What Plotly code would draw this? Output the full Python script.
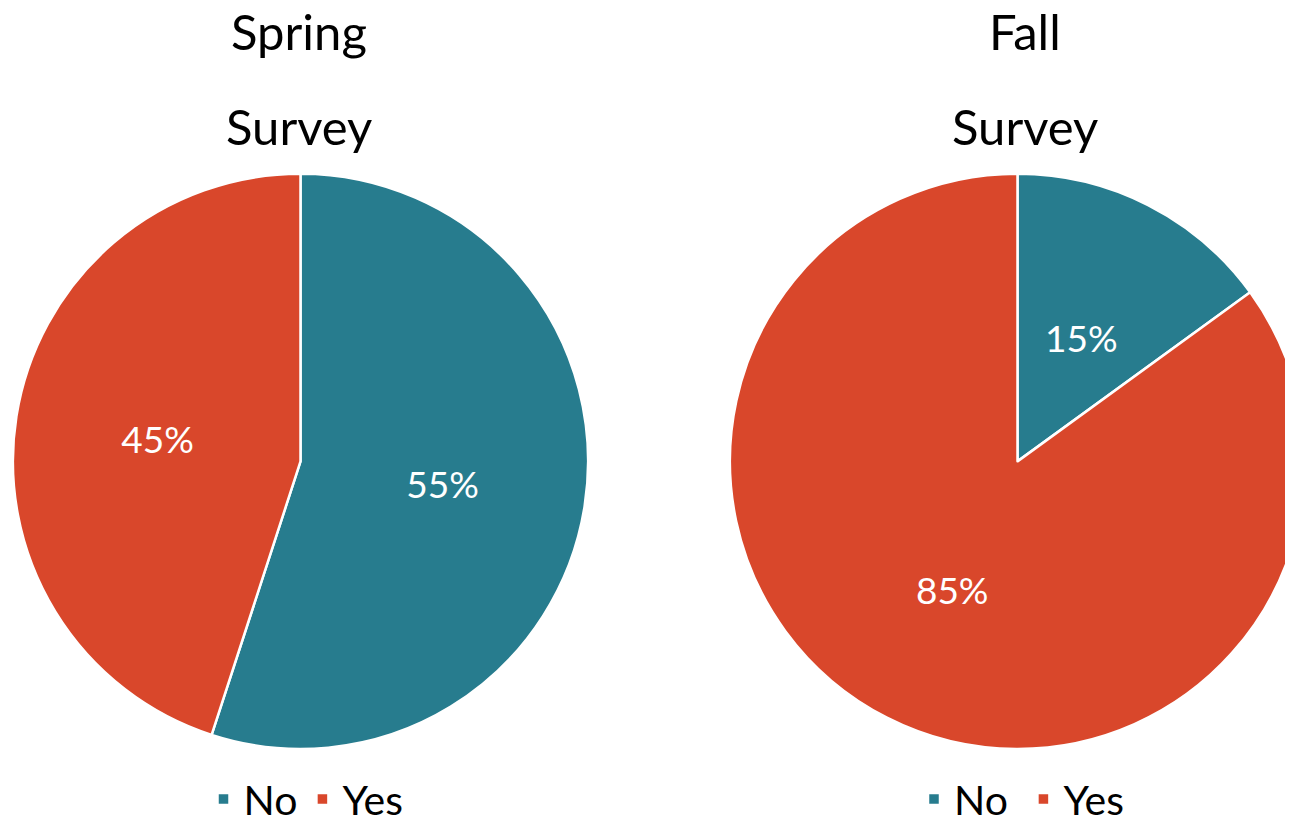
import math
import plotly.graph_objects as go

labels_spring = ["No", "Yes"]
labels_fall = ["No ", "Yes "]  # trailing space keeps the second legend's entries distinct
spring_values = [55, 45]
fall_values = [15, 85]
colors = ["#277C8E", "#D9472B"]
title_lines_spring = ["Spring", "Survey"]
title_lines_fall = ["Fall", "Survey"]

# page is offset by the 8px body margin, so positions are expressed in
# reference pixels and shifted by OFF
W, H = 1320, 825
OFF = 8
FONT = "Lato"

def px_x(x):
    return (x - OFF) / W

def px_y(y):
    return 1 - (y - OFF) / H

fig = go.Figure()

common = dict(
    sort=False,
    direction="clockwise",
    rotation=0,
    marker=dict(colors=colors, line=dict(color="white", width=2.5)),
    textposition="inside",
    insidetextorientation="horizontal",
    textfont=dict(family=FONT, size=37, color="white"),
    hoverinfo="label+percent",
)

left_dom = dict(x=[px_x(9), px_x(592)], y=[px_y(759), px_y(176)])
right_dom = dict(x=[px_x(726), px_x(1309)], y=[px_y(759), px_y(176)])

fig.add_trace(go.Pie(
    labels=labels_spring,
    values=spring_values,
    domain=left_dom,
    legend="legend",
    texttemplate="%{percent:.0%}",
    **common,
))
# small slice label is placed at half radius along its mid-angle (as in the reference)
fig.add_trace(go.Pie(
    labels=labels_fall,
    values=fall_values,
    domain=right_dom,
    legend="legend2",
    texttemplate=["", "%{percent:.0%}"],
    **common,
))

annotations = []
# label for the Fall "No" slice, positioned from the data
tot = sum(fall_values)
mid = 2 * math.pi * (fall_values[0] / 2) / tot
cx_p = (right_dom["x"][0] + right_dom["x"][1]) / 2
cy_p = (right_dom["y"][0] + right_dom["y"][1]) / 2
R_px = min((right_dom["x"][1] - right_dom["x"][0]) * W, (right_dom["y"][1] - right_dom["y"][0]) * H) / 2 - 3
annotations.append(dict(
    text=f"{round(100 * fall_values[0] / tot)}%",
    x=cx_p + 0.49 * R_px * math.sin(mid) / W,
    y=cy_p + 0.49 * R_px * math.cos(mid) / H,
    xref="paper", yref="paper", xanchor="center", yanchor="middle", showarrow=False,
    font=dict(family=FONT, size=37, color="white"),
))

for cx, lines in [(299, title_lines_spring), (1025, title_lines_fall)]:
    for yy, t in zip([31, 128], lines):
        annotations.append(dict(
            text=t, x=px_x(cx), y=px_y(yy), xref="paper", yref="paper",
            xanchor="center", yanchor="middle", showarrow=False,
            font=dict(family=FONT, size=49, color="black"),
        ))

legend_common = dict(
    orientation="h",
    xanchor="center",
    yanchor="middle",
    font=dict(family=FONT, size=41, color="black"),
    bgcolor="rgba(0,0,0,0)",
    itemclick=False,
)

fig.update_layout(
    width=W,
    height=H,
    margin=dict(l=0, r=0, t=0, b=0),
    paper_bgcolor="white",
    plot_bgcolor="white",
    showlegend=True,
    annotations=annotations,
    legend=dict(x=px_x(306), y=px_y(810), **legend_common),
    legend2=dict(x=px_x(1027), y=px_y(810), **legend_common),
)

fig.write_html("out.html")
